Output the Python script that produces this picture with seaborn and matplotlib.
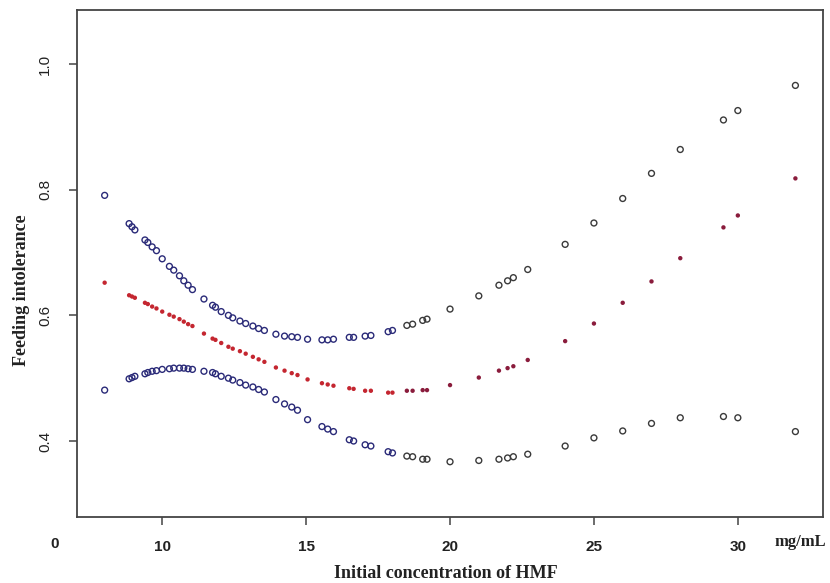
import numpy as np
import pandas as pd
import matplotlib
matplotlib.use("Agg")
import matplotlib.pyplot as plt
import seaborn as sns

# HMF concentration (mg/mL) at each fitted point
conc = [8.0, 8.85, 8.95, 9.05, 9.4, 9.5, 9.65, 9.8, 10.0, 10.25, 10.4, 10.6, 10.75,
        10.9, 11.05, 11.45, 11.75, 11.85, 12.05, 12.3, 12.45, 12.7, 12.9, 13.15,
        13.35, 13.55, 13.95, 14.25, 14.5, 14.7, 15.05, 15.55, 15.75, 15.95, 16.5,
        16.65, 17.05, 17.25, 17.85, 18.0, 18.5, 18.7, 19.05, 19.2, 20, 21, 21.7,
        22, 22.2, 22.7, 24, 25, 26, 27, 28, 29.5, 30, 32]

# upper 95% CI
upper = [0.791, 0.746, 0.741, 0.736, 0.720, 0.716, 0.709, 0.703, 0.690, 0.678,
         0.672, 0.663, 0.655, 0.648, 0.641, 0.626, 0.616, 0.613, 0.606, 0.600,
         0.596, 0.591, 0.587, 0.583, 0.579, 0.576, 0.570, 0.567, 0.566, 0.565,
         0.562, 0.561, 0.561, 0.562, 0.565, 0.565, 0.567, 0.568, 0.574, 0.576,
         0.584, 0.586, 0.592, 0.594, 0.610, 0.631, 0.648, 0.655, 0.660, 0.673,
         0.713, 0.747, 0.786, 0.826, 0.864, 0.911, 0.926, 0.966]

# fitted risk
fit = [0.652, 0.632, 0.630, 0.628, 0.620, 0.618, 0.614, 0.611, 0.606, 0.601,
       0.598, 0.594, 0.590, 0.586, 0.583, 0.571, 0.563, 0.561, 0.556, 0.550,
       0.547, 0.543, 0.539, 0.534, 0.530, 0.526, 0.517, 0.512, 0.508, 0.505,
       0.498, 0.492, 0.490, 0.488, 0.484, 0.483, 0.480, 0.480, 0.477, 0.477,
       0.480, 0.480, 0.481, 0.481, 0.489, 0.501, 0.512, 0.516, 0.519, 0.529,
       0.559, 0.587, 0.620, 0.654, 0.691, 0.740, 0.759, 0.818]

# lower 95% CI
lower = [0.481, 0.499, 0.501, 0.503, 0.507, 0.509, 0.511, 0.512, 0.514, 0.515,
         0.516, 0.516, 0.516, 0.515, 0.514, 0.511, 0.509, 0.507, 0.503, 0.500,
         0.497, 0.493, 0.489, 0.486, 0.482, 0.478, 0.466, 0.459, 0.454, 0.449,
         0.434, 0.423, 0.419, 0.415, 0.402, 0.400, 0.394, 0.392, 0.383, 0.381,
         0.376, 0.375, 0.371, 0.371, 0.367, 0.369, 0.371, 0.373, 0.375, 0.379,
         0.392, 0.405, 0.416, 0.428, 0.437, 0.439, 0.437, 0.415]

df = pd.DataFrame({"conc": conc, "upper": upper, "fit": fit, "lower": lower})
dense = df["conc"] < 18.3

sns.set_style("white")
fig = plt.figure(figsize=(8.3, 5.83), dpi=100)
ax = fig.add_axes([0.0928, 0.1137, 0.8988, 0.8691])

for col in ["upper", "lower"]:
    sns.scatterplot(data=df[dense], x="conc", y=col, ax=ax, s=18, marker="o",
                    facecolor="none", edgecolor="#2a2a78", linewidth=1.0)
    sns.scatterplot(data=df[~dense], x="conc", y=col, ax=ax, s=18, marker="o",
                    facecolor="none", edgecolor="#3a3a3a", linewidth=1.0)
sns.scatterplot(data=df[dense], x="conc", y="fit", ax=ax, s=10,
                color="#c42630", edgecolor="none")
sns.scatterplot(data=df[~dense], x="conc", y="fit", ax=ax, s=10,
                color="#8a1c3c", edgecolor="none")

ax.set_xlim(7.04, 32.96)
ax.set_ylim(0.2795, 1.086)
ax.set_xticks([10, 15, 20, 25, 30])
ax.set_yticks([0.4, 0.6, 0.8, 1.0])
ax.set_xticklabels(["10", "15", "20", "25", "30"], family="Liberation Sans",
                   fontsize=11, fontweight="bold", color="#222222")
ax.set_yticklabels(["0.4", "0.6", "0.8", "1.0"], family="Liberation Sans",
                   fontsize=11, rotation=90, va="center", color="#222222")
ax.tick_params(axis="both", direction="out", length=6, width=1.1,
               color="#444444", left=True, bottom=True)
ax.tick_params(axis="x", pad=11)
ax.tick_params(axis="y", pad=12)
for sp in ax.spines.values():
    sp.set_visible(True)
    sp.set_color("#444444")
    sp.set_linewidth(1.3)

ax.set_xlabel("")
ax.set_ylabel("")
fig.text(22 / 830, 1 - 290 / 583, "Feeding intolerance", rotation=90,
         family="Liberation Serif", fontsize=13, fontweight="bold",
         ha="center", va="center", color="#222222")
fig.text(446 / 830, 1 - 573 / 583, "Initial concentration of HMF",
         family="Liberation Serif", fontsize=13, fontweight="bold",
         ha="center", va="center", color="#222222")
fig.text(55 / 830, 1 - 544 / 583, "0", family="Liberation Sans", fontsize=11,
         fontweight="bold", ha="center", va="center", color="#222222")
fig.text(800 / 830, 1 - 542 / 583, "mg/mL", family="Liberation Serif",
         fontsize=12, fontweight="bold", ha="center", va="center", color="#222222")

fig.savefig("out.png", dpi=100, facecolor="white")
